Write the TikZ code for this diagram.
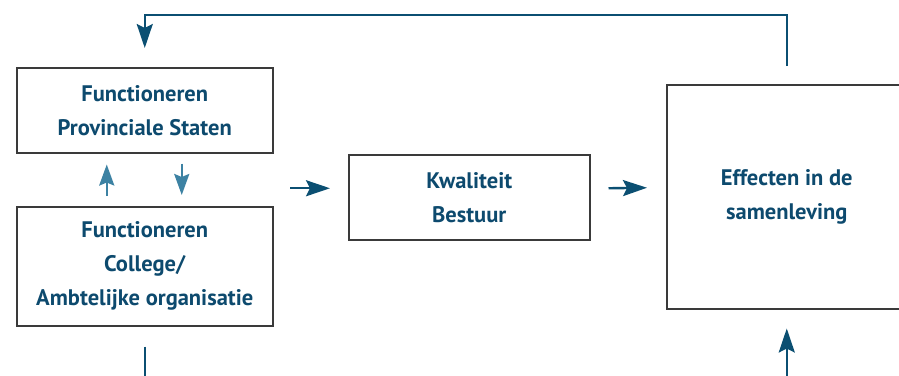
\documentclass[tikz,border=0pt]{standalone}
\usepackage{fontspec}
\setmainfont{PT Sans}
\usetikzlibrary{arrows.meta,calc}
\definecolor{txtblue}{HTML}{0D4A6E}
\definecolor{darkarr}{HTML}{0B4F72}
\definecolor{lightarr}{HTML}{3D82A3}
\definecolor{boxgray}{HTML}{3A3A3A}
\tikzset{
  box/.style={draw=boxgray, line width=1.5pt, align=center, text=txtblue,
    font=\fontsize{22.5}{34}\selectfont\bfseries, inner sep=0pt, anchor=north west},
  darrow/.style={draw=darkarr, line width=2.4pt, -{Stealth[length=24pt,width=16pt,inset=4pt]}},
  dline/.style={draw=darkarr, line width=2.4pt},
  larrow/.style={draw=lightarr, line width=2.4pt, -{Stealth[length=21pt,width=15pt,inset=3pt]}},
}
\begin{document}
\begin{tikzpicture}[x=1pt,y=-1pt]
\useasboundingbox (0,0) rectangle (899,375);
\clip (0,0) rectangle (899,375);
\node[box, minimum width=256pt, minimum height=85pt] (ps) at (16,67) {Functioneren\\Provinciale Staten};
\node[box, minimum width=256pt, minimum height=119pt] (col) at (16,206) {Functioneren\\College/\\Ambtelijke organisatie};
\node[box, minimum width=241pt, minimum height=85pt] (kw) at (348,154) {Kwaliteit\\Bestuur};
\node[box, minimum width=240pt, minimum height=224pt] (eff) at (666,84) {Effecten in de\\samenleving};
\coordinate (bl) at ($(col.south)+(0,60)$);
\coordinate (br) at ($(eff.south)+(0,80)$);
% feedback loop
\draw[darrow] ($(eff.north)+(0,-18)$) -- ++(0,-51) -| ($(ps.north)+(0,-19)$);
% interactions
\draw[larrow] ($(col.north)+(-38,-10)$) -- ($(ps.south)+(-38,11)$);
\draw[larrow] ($(ps.south)+(37,10)$) -- ($(col.north)+(37,-11)$);
% main flow
\draw[darrow] ($(kw.west)+(-58,-9)$) -- ($(kw.west)+(-18,-9)$);
\draw[darrow] ($(kw.east)+(18,-9)$) -- ($(eff.west)+(-19,-9)$);
% bottom
\draw[dline] ($(col.south)+(0,20)$) -- (bl);
\draw[darrow] (br) -- ($(eff.south)+(0,19)$);
\end{tikzpicture}
\end{document}
